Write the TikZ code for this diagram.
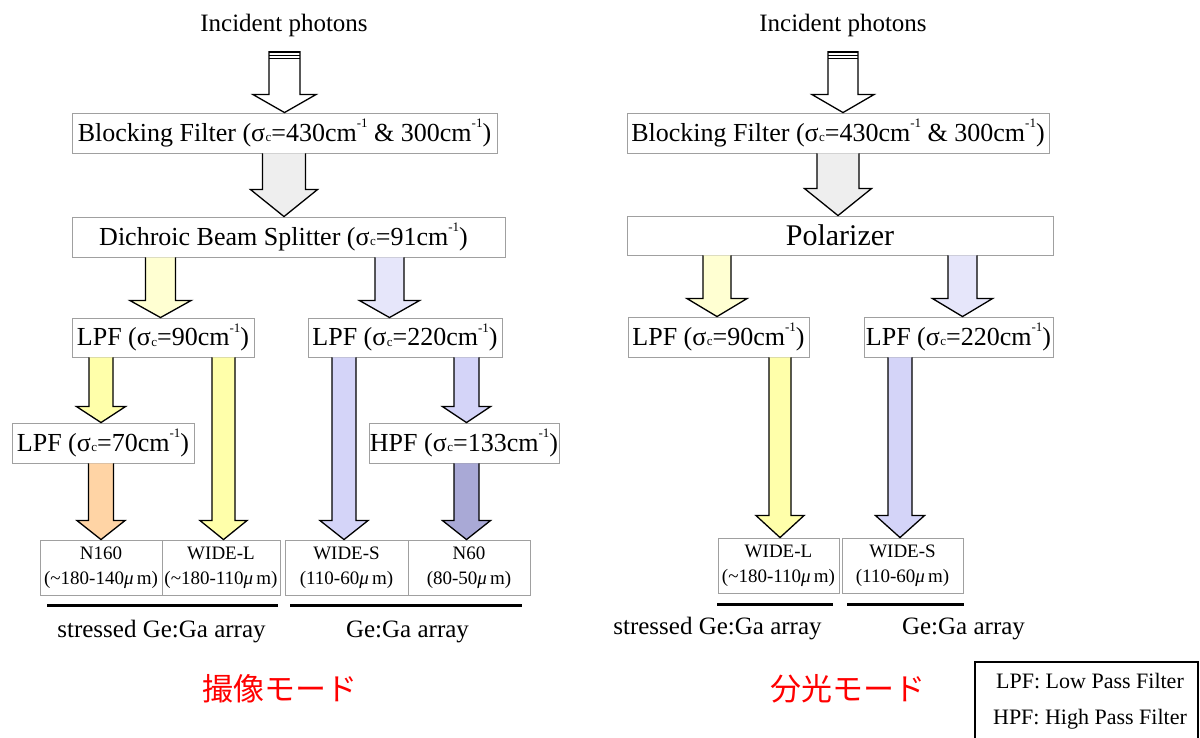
\documentclass[tikz,border=0pt]{standalone}
\usepackage{fontspec}
\setmainfont{Liberation Serif}
\newfontfamily\cjk{Noto Sans CJK JP}
\usetikzlibrary{calc}
\definecolor{ylw}{HTML}{FFFFAA}
\definecolor{ylwl}{HTML}{FFFFD2}
\definecolor{blu}{HTML}{D4D4F8}
\definecolor{blul}{HTML}{E6E6FA}
\definecolor{dblu}{HTML}{A9A9D6}
\definecolor{org}{HTML}{FFD4A5}
\definecolor{gry}{HTML}{EEEEEE}
\definecolor{bordergray}{HTML}{A0A0A0}
\newcommand\sgc{σ\kern0.02em\raisebox{-0.02em}{\fontsize{0.5em}{0.6em}\selectfont c}}
\newcommand\cmi{cm\raisebox{0.52em}{\fontsize{0.5em}{0.6em}\selectfont -1}}
\newcommand\mum{\textit{μ}\,m}
% #1 fill, #2 x, #3 from, #4 to, #5 shaft half, #6 head half, #7 head length
\newcommand\blockarrow[7]{%
  \draw[barr, fill=#1] let \p1=(#3), \p2=(#4) in
    (#2pt+#5pt,\y1) -- (#2pt+#5pt,\y2+#7pt) -- (#2pt+#6pt,\y2+#7pt) -- (#2pt,\y2)
    -- (#2pt-#6pt,\y2+#7pt) -- (#2pt-#5pt,\y2+#7pt) -- (#2pt-#5pt,\y1);}
\tikzset{
  fbox/.style={draw=bordergray, line width=0.9pt, fill=white, inner sep=0pt,
    minimum height=40pt, font=\fontsize{26}{30}\selectfont},
  dbox/.style={draw=bordergray, line width=0.9pt, fill=white, inner sep=0pt,
    minimum height=55pt, align=center, font=\fontsize{19}{25}\selectfont},
  lbl/.style={font=\fontsize{25}{30}\selectfont, inner sep=0pt, anchor=base},
  jlbl/.style={font=\cjk\fontsize{31}{36}\selectfont, text=red, inner sep=0pt, anchor=base},
  leg/.style={font=\fontsize{22}{26}\selectfont, inner sep=0pt, anchor=base},
  barr/.style={draw=black, line width=1.3pt, line join=miter},
  under/.style={draw=black, line width=3pt},
  stripe/.style={draw=black, line width=1.6pt},
}
\begin{document}
\begin{tikzpicture}[x=1pt,y=-1pt]
\useasboundingbox (0,0) rectangle (1200,737);
% ---------------- left: imaging mode ----------------
\node[lbl] (ip1) at (284,31) {Incident photons};
\coordinate (ip1a) at (284.5,51);
\node[fbox, minimum width=425pt] (bf1) at (284.5,133) {Blocking Filter (\sgc=430\cmi{} \& 300\cmi)};
\node[fbox, minimum width=433pt] (ds) at (288.5,237) {Dichroic Beam Splitter (\sgc=91\cmi)\kern10pt};
\node[fbox, minimum width=182pt, minimum height=39pt] (lpf90) at (163,337.5) {LPF (\sgc=90\cmi)};
\node[fbox, minimum width=194pt, minimum height=39pt] (lpf220) at (405,337.5) {LPF (\sgc=220\cmi)};
\node[fbox, minimum width=182pt] (lpf70) at (103,443) {LPF (\sgc=70\cmi)};
\node[fbox, minimum width=190pt] (hpf) at (464,443) {HPF (\sgc=133\cmi)};
\node[dbox, minimum width=122pt] (n160) at (101,567.5) {N160\\(\textasciitilde180-140\mum)};
\node[dbox, minimum width=118pt] (widel) at (221,567.5) {WIDE-L\\(\textasciitilde180-110\mum)};
\node[dbox, minimum width=123pt] (wides) at (346.5,567.5) {WIDE-S\\(110-60\mum)};
\node[dbox, minimum width=122pt] (n60) at (469,567.5) {N60\\(80-50\mum)};
\node[lbl] (sga1) at (161.5,637) {stressed Ge:Ga array};
\node[lbl] (gga1) at (407.5,637) {Ge:Ga array};
\node[jlbl] (mode1) at (280,700) {撮像モード};
\draw[under] (47,605) -- (278,605);
\draw[under] (290,605) -- (522,605);
% arrows
\blockarrow{white}{284.5}{ip1a}{bf1.north}{15.5}{31.5}{18}
\draw[stripe] (269,52) -- (300,52);
\draw[stripe, line width=1.1pt] (269,55.5) -- (300,55.5);
\draw[stripe, line width=1.1pt] (269,58.5) -- (300,58.5);
\blockarrow{gry}{284}{bf1.south}{ds.north}{21.5}{33.5}{27}
\blockarrow{ylwl}{160.5}{ds.south}{lpf90.north}{15}{30.5}{17}
\blockarrow{blul}{389.5}{ds.south}{lpf220.north}{14.5}{30}{17}
\blockarrow{ylw}{101}{lpf90.south}{lpf70.north}{12}{24.5}{16}
\blockarrow{ylw}{223.5}{lpf90.south}{widel.north}{11.5}{23.5}{19}
\blockarrow{org}{101}{lpf70.south}{n160.north}{12.5}{24}{19}
\blockarrow{blu}{344}{lpf220.south}{wides.north}{12}{24}{19}
\blockarrow{blu}{466.5}{lpf220.south}{hpf.north}{12.5}{24}{16}
\blockarrow{dblu}{466.5}{hpf.south}{n60.north}{12.5}{24}{19}
% ---------------- right: spectroscopy mode ----------------
\node[lbl] (ip2) at (843,31) {Incident photons};
\coordinate (ip2a) at (843,51);
\node[fbox, minimum width=422pt] (bf2) at (838,133) {Blocking Filter (\sgc=430\cmi{} \& 300\cmi)};
\node[fbox, minimum width=426pt, minimum height=39pt, font=\fontsize{30}{34}\selectfont] (pol) at (840,235.5) {Polarizer};
\node[fbox, minimum width=181pt] (lpf90r) at (718.5,337) {LPF (\sgc=90\cmi)};
\node[fbox, minimum width=189pt] (lpf220r) at (958.5,337) {LPF (\sgc=220\cmi)};
\node[dbox, minimum width=121pt] (widelr) at (778.5,565.5) {WIDE-L\\(\textasciitilde180-110\mum)};
\node[dbox, minimum width=121pt] (widesr) at (902.5,565.5) {WIDE-S\\(110-60\mum)};
\node[lbl] (sga2) at (717.5,634) {stressed Ge:Ga array};
\node[lbl] (gga2) at (963.5,634) {Ge:Ga array};
\node[jlbl] (mode2) at (848,700) {分光モード};
\draw[under] (717,604) -- (833,604);
\draw[under] (847,604) -- (964,604);
\blockarrow{white}{843}{ip2a}{bf2.north}{15}{31}{18}
\draw[stripe] (828,52) -- (858,52);
\draw[stripe, line width=1.1pt] (828,55.5) -- (858,55.5);
\draw[stripe, line width=1.1pt] (828,58.5) -- (858,58.5);
\blockarrow{gry}{838}{bf2.south}{pol.north}{21}{33.5}{27}
\blockarrow{ylwl}{717}{pol.south}{lpf90r.north}{14}{30}{18}
\blockarrow{blul}{962.5}{pol.south}{lpf220r.north}{14.5}{30}{18}
\blockarrow{ylw}{780}{lpf90r.south}{widelr.north}{11}{24}{22}
\blockarrow{blu}{900}{lpf220r.south}{widesr.north}{12}{24.5}{22}
% ---------------- legend ----------------
\draw[black, line width=1.5pt] (975,662) rectangle (1198,760);
\node[leg] (leg1) at (1090,688) {LPF: Low Pass Filter};
\node[leg] (leg2) at (1090,724) {HPF: High Pass Filter};
\end{tikzpicture}
\end{document}
